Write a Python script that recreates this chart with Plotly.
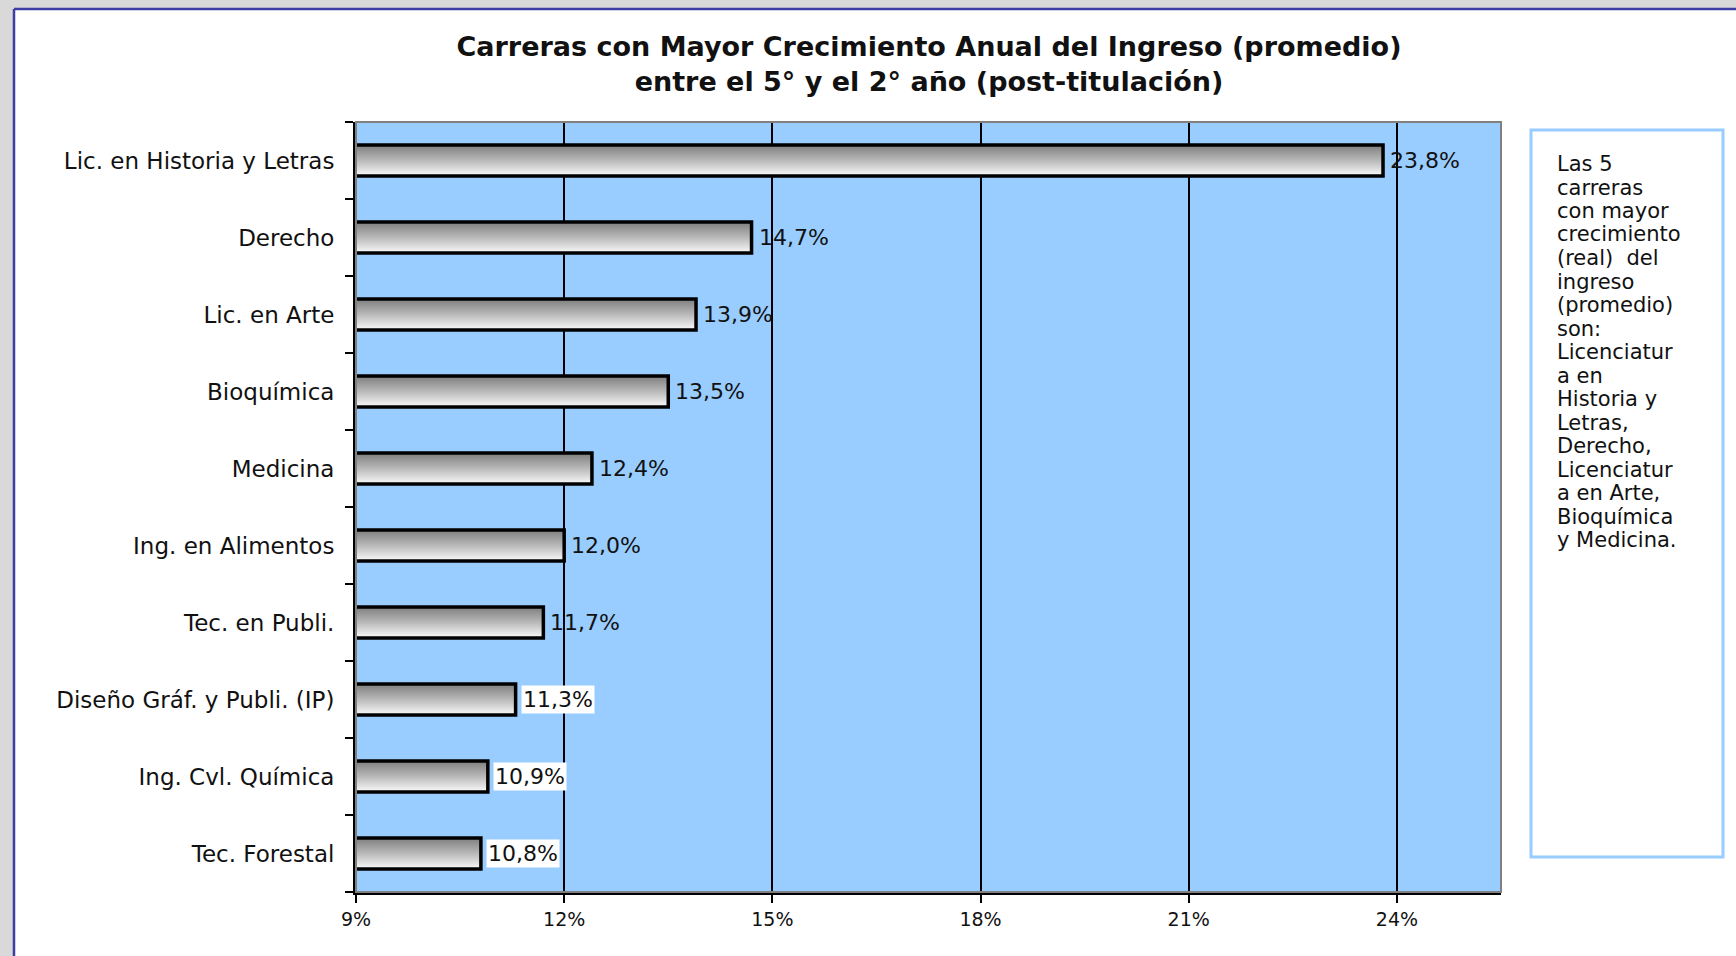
import plotly.graph_objects as go

# data (top to bottom)
carreras = [
    "Lic. en Historia y Letras",
    "Derecho",
    "Lic. en Arte",
    "Bioquímica",
    "Medicina",
    "Ing. en Alimentos",
    "Tec. en Publi.",
    "Diseño Gráf. y Publi. (IP)",
    "Ing. Cvl. Química",
    "Tec. Forestal",
]
crecimiento = [23.8, 14.7, 13.9, 13.5, 12.4, 12.0, 11.7, 11.3, 10.9, 10.8]
x_ticks = [9, 12, 15, 18, 21, 24]

nota = ["Las 5", "carreras", "con mayor", "crecimiento", "(real)  del", "ingreso",
        "(promedio)", "son:", "Licenciatur", "a en", "Historia y", "Letras,",
        "Derecho,", "Licenciatur", "a en Arte,", "Bioquímica", "y Medicina."]

FONT = "DejaVu Sans, Arial, sans-serif"
W, H = 1736, 956
L, R, T, B = 356, 1501, 122, 892  # plot area in px


def px_x(p):
    return (p - L) / (R - L)


def px_y(p):
    return (B - p) / (B - T)


n = len(carreras)
ypos = [n - 1 - i for i in range(n)]  # first category on top
half = 0.2

fig = go.Figure()

# each bar: closed outline with a vertical grey gradient (dark top -> white bottom)
for cat, v, y in zip(carreras, crecimiento, ypos):
    fig.add_trace(go.Scatter(
        x=[0, v, v, 0, 0],
        y=[y - half, y - half, y + half, y + half, y - half],
        fill="toself",
        mode="lines",
        line=dict(width=3.5, color="#000000"),
        fillgradient=dict(type="vertical", start=y + half, stop=y - half,
                          colorscale=[[0, "#7e7e7e"], [0.5, "#b9b9b9"], [1, "#fafafa"]]),
        hoveron="fills",
        name=f"{cat}: {v:.1f}%".replace(".", ","),
        showlegend=False,
    ))

# value labels
for v, y in zip(crecimiento, ypos):
    fig.add_annotation(
        x=v, y=y, xref="x", yref="y",
        text=f"{v:.1f}%".replace(".", ","),
        showarrow=False, xanchor="left", yanchor="middle", xshift=5,
        font=dict(family=FONT, size=22, color="#111111"),
        bgcolor="#ffffff" if v < 11.5 else "rgba(0,0,0,0)",
        borderpad=1,
    )

# grey page edge with dark blue border line (top and left)
fig.add_shape(type="rect", xref="paper", yref="paper", layer="below",
              x0=px_x(0), x1=px_x(1760), y0=px_y(9), y1=px_y(-5),
              fillcolor="#d9d9d9", line=dict(width=0))
fig.add_shape(type="rect", xref="paper", yref="paper", layer="below",
              x0=px_x(-5), x1=px_x(14), y0=px_y(990), y1=px_y(-5),
              fillcolor="#d9d9d9", line=dict(width=0))
fig.add_shape(type="line", xref="paper", yref="paper",
              x0=px_x(14), x1=px_x(1760), y0=px_y(9), y1=px_y(9),
              line=dict(color="#3d3da3", width=2.5))
fig.add_shape(type="line", xref="paper", yref="paper",
              x0=px_x(14), x1=px_x(14), y0=px_y(9), y1=px_y(990),
              line=dict(color="#3d3da3", width=2.5))

# note box, one annotation per line to keep the tight line spacing
fig.add_shape(type="rect", xref="paper", yref="paper",
              x0=px_x(1531), x1=px_x(1723), y0=px_y(857), y1=px_y(130),
              fillcolor="#ffffff", line=dict(color="#99ccff", width=3))
for k, linea in enumerate(nota):
    fig.add_annotation(
        xref="paper", yref="paper", x=px_x(1555), y=px_y(164 + 23.5 * k),
        xanchor="left", yanchor="middle", align="left", showarrow=False,
        text=linea, font=dict(family=FONT, size=21, color="#111111"),
    )

fig.update_layout(
    width=W, height=H,
    margin=dict(l=L, r=W - R, t=T, b=H - B, autoexpand=False),
    paper_bgcolor="#ffffff",
    plot_bgcolor="#99ccff",
    title=dict(
        text="<b>Carreras con Mayor Crecimiento Anual del Ingreso (promedio)<br>"
             "entre el 5° y el 2° año (post-titulación)</b>",
        x=929 / W, xanchor="center", y=1 - 56 / H, yanchor="middle",
        font=dict(family=FONT, size=27, color="#111111"),
    ),
    font=dict(family=FONT, size=20, color="#111111"),
    hovermode="closest",
)

fig.update_xaxes(
    range=[9, 25.5], tickvals=x_ticks, ticktext=[f"{t}%" for t in x_ticks],
    showgrid=True, gridcolor="#000000", gridwidth=2,
    showline=True, linecolor="#000000", linewidth=2.5, mirror=False,
    ticks="outside", ticklen=8, tickcolor="#000000", tickwidth=2,
    tickfont=dict(size=19), zeroline=False, fixedrange=True,
)
fig.update_yaxes(
    range=[-0.5, n - 0.5], tickvals=ypos, ticktext=carreras,
    showgrid=False, zeroline=False,
    showline=True, linecolor="#000000", linewidth=3,
    ticks="", ticklabelstandoff=14,
    minor=dict(tickvals=[k - 0.5 for k in range(n + 1)], ticks="outside",
               ticklen=8, tickcolor="#000000", tickwidth=2, showgrid=False),
    tickfont=dict(size=23), fixedrange=True,
)

# thin grey frame on the right / top of the plot area
fig.add_shape(type="rect", xref="paper", yref="paper", x0=0, x1=1, y0=0, y1=1,
              line=dict(color="#808080", width=2), fillcolor="rgba(0,0,0,0)")

# drop the default page margin so the figure sits at the window corner
fig.write_html("out.html", config={"displayModeBar": False},
               post_script="document.body.style.margin = '0';")
